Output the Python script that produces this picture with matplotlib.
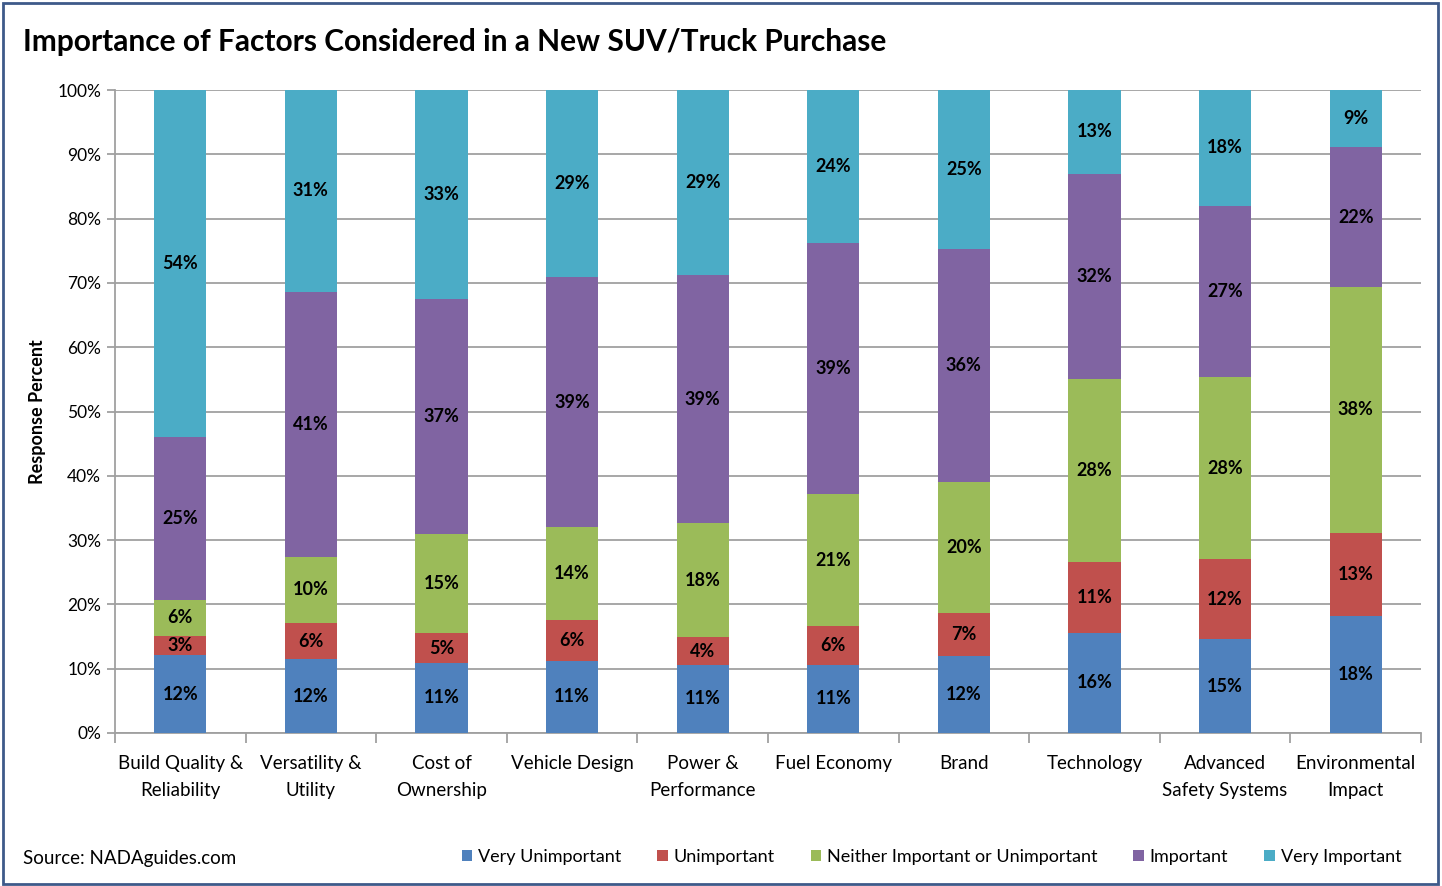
import matplotlib
matplotlib.use("Agg")
import matplotlib.pyplot as plt
from matplotlib.patches import Rectangle
import numpy as np

plt.rcParams['font.family'] = ['Lato', 'DejaVu Sans']

categories = ["Build Quality &\nReliability", "Versatility &\nUtility", "Cost of\nOwnership",
              "Vehicle Design", "Power &\nPerformance", "Fuel Economy", "Brand",
              "Technology", "Advanced\nSafety Systems", "Environmental\nImpact"]
series_names = ["Very Unimportant", "Unimportant", "Neither Important or Unimportant",
                "Important", "Very Important"]
very_unimportant = [12.1, 11.5, 10.9, 11.2, 10.6, 10.6, 12.0, 15.6, 14.6, 18.2]
unimportant      = [3.0, 5.6, 4.6, 6.4, 4.3, 6.0, 6.7, 11.0, 12.4, 12.9]
neither          = [5.6, 10.3, 15.4, 14.4, 17.7, 20.6, 20.3, 28.4, 28.3, 38.3]
important        = [25.3, 41.2, 36.6, 38.9, 38.6, 39.0, 36.3, 32.0, 26.7, 21.7]
very_important   = [54.0, 31.4, 32.5, 29.1, 28.8, 23.8, 24.7, 13.0, 18.0, 8.9]
colors = ["#4F81BD", "#C0504D", "#9BBB59", "#8064A2", "#4BACC6"]

fig = plt.figure(figsize=(14.42, 8.86), dpi=100)
ax = fig.add_axes([115 / 1442, 0.1727, 1306 / 1442, 0.7257])

data = [very_unimportant, unimportant, neither, important, very_important]
x = np.arange(len(categories))
bottom = np.zeros(len(categories))
for vals, col, name in zip(data, colors, series_names):
    vals = np.array(vals)
    ax.bar(x, vals, 0.4, bottom=bottom, color=col, label=name, zorder=3)
    for xi, b, v in zip(x, bottom, vals):
        ax.text(xi, b + v / 2, f"{int(v + 0.5):d}%", ha='center', va='center',
                fontsize=13, fontweight='bold', color='black', zorder=4)
    bottom += vals

ax.set_xlim(-0.5, len(categories) - 0.5)
ax.set_ylim(0, 100)
ax.set_yticks(np.arange(0, 101, 10))
ax.set_yticklabels([f"{v}%" for v in range(0, 101, 10)], fontsize=12.5)
ax.yaxis.grid(True, color='#A0A0A0', linewidth=1.3, zorder=0)
ax.set_axisbelow(True)
ax.set_xticks(x)
ax.set_xticklabels(categories, fontsize=13.5, linespacing=1.7)
ax.tick_params(axis='x', length=0, pad=16)
ax.set_xticks(np.arange(-0.5, len(categories) + 0.5, 1), minor=True)
ax.tick_params(axis='x', which='minor', length=7, color='#A0A0A0', width=1.3)
ax.tick_params(axis='y', length=6, color='#A0A0A0', width=1.3, pad=4)
for s in ['top', 'right']:
    ax.spines[s].set_visible(False)
for s in ['left', 'bottom']:
    ax.spines[s].set_color('#A0A0A0')
    ax.spines[s].set_linewidth(1.3)
ax.set_ylabel("Response Percent", fontsize=13, fontweight='bold', labelpad=8)

fig.text(0.016, 0.953, "Importance of Factors Considered in a New SUV/Truck Purchase",
         fontsize=21.5, fontweight='bold', ha='left', va='center')
fig.text(0.016, 0.031, "Source: NADAguides.com", fontsize=13.5, ha='left', va='center')

handles, labels = ax.get_legend_handles_labels()
fig.legend(handles, labels, loc='center right', bbox_to_anchor=(0.983, 0.033),
           ncol=5, frameon=False, fontsize=13, handlelength=0.6, handleheight=0.6,
           handletextpad=0.3, columnspacing=2.0)

fig.add_artist(Rectangle((0.002, 0.002), 0.995, 0.995, transform=fig.transFigure,
                         fill=False, edgecolor='#3E5A8A', linewidth=2))

fig.savefig("out.png", dpi=100)
